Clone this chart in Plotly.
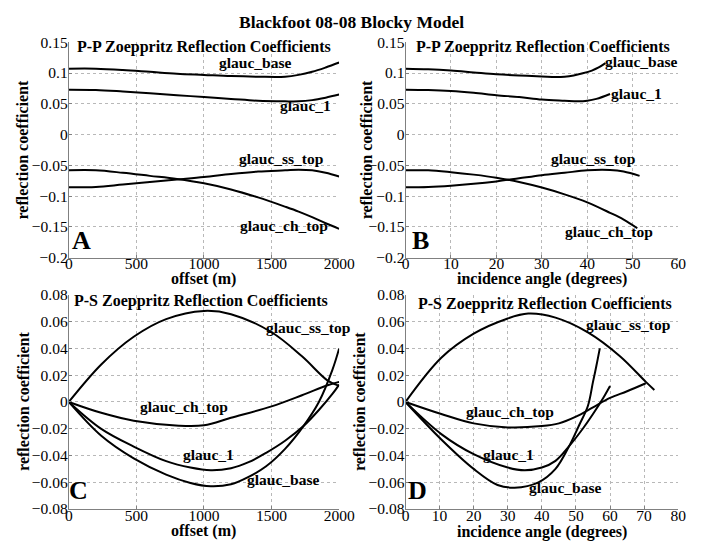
import plotly.graph_objects as go

# ---------------- data ----------------
# Panel A : P-P vs offset (m)
offset_pp = [0, 200, 400, 600, 800, 1000, 1200, 1400, 1600, 1700, 1800, 1900, 2000]
pp_off_base = [0.107, 0.107, 0.105, 0.102, 0.099, 0.097, 0.095, 0.094, 0.094, 0.097, 0.102, 0.109, 0.117]
pp_off_g1 = [0.073, 0.0725, 0.070, 0.067, 0.064, 0.061, 0.058, 0.055, 0.054, 0.054, 0.056, 0.060, 0.065]
pp_off_ss = [-0.0856, -0.085, -0.081, -0.077, -0.073, -0.069, -0.064, -0.060, -0.058, -0.057, -0.058, -0.062, -0.068]
pp_off_ch = [-0.058, -0.058, -0.062, -0.067, -0.072, -0.079, -0.089, -0.102, -0.117, -0.125, -0.134, -0.144, -0.153]

# Panel B : P-P vs incidence angle (degrees)
ang_pp_base = [0, 5, 10, 15, 20, 25, 30, 33, 35, 37, 39, 41, 42.5, 44]
pp_ang_base = [0.107, 0.106, 0.104, 0.101, 0.098, 0.096, 0.0945, 0.0935, 0.094, 0.096, 0.0995, 0.104, 0.109, 0.116]
ang_pp_g1 = [0, 5, 10, 15, 20, 25, 30, 35, 38, 40, 42, 45]
pp_ang_g1 = [0.073, 0.0725, 0.071, 0.068, 0.064, 0.061, 0.057, 0.055, 0.054, 0.055, 0.058, 0.066]
ang_pp_ss = [0, 5, 10, 15, 20, 25, 30, 35, 40, 45, 48, 51.5]
pp_ang_ss = [-0.0856, -0.085, -0.083, -0.080, -0.076, -0.071, -0.066, -0.062, -0.058, -0.0575, -0.060, -0.067]
ang_pp_ch = [0, 5, 10, 15, 20, 25, 30, 35, 40, 45, 48, 51]
pp_ang_ch = [-0.058, -0.058, -0.061, -0.065, -0.070, -0.077, -0.086, -0.097, -0.110, -0.127, -0.138, -0.152]

# Panel C : P-S vs offset (m)
off_ps_ss = [0, 240, 480, 720, 1000, 1200, 1500, 1725, 1915, 2000]
ps_off_ss = [0, 0.028, 0.0487, 0.0619, 0.068, 0.0656, 0.0521, 0.0341, 0.016, 0.012]
off_ps_ch = [0, 240, 480, 815, 1000, 1200, 1500, 1725, 1915, 2000]
ps_off_ch = [0, -0.0081, -0.014, -0.0177, -0.0174, -0.0118, -0.0033, 0.005, 0.0125, 0.015]
off_ps_g1 = [0, 240, 480, 720, 900, 1050, 1200, 1330, 1460, 1600, 1736, 1850, 1950, 2000]
ps_off_g1 = [0, -0.0201, -0.0333, -0.0442, -0.049, -0.051, -0.0495, -0.045, -0.038, -0.029, -0.018, -0.006, 0.006, 0.013]
off_ps_base = [0, 240, 480, 720, 900, 1050, 1200, 1330, 1460, 1600, 1736, 1850, 1950, 2000]
ps_off_base = [0, -0.0253, -0.0422, -0.0543, -0.0605, -0.063, -0.0615, -0.056, -0.048, -0.035, -0.018, 0.000, 0.024, 0.040]

# Panel D : P-S vs incidence angle (degrees)
ang_ps_ss = [0, 10.5, 20, 29.6, 36, 44, 53.5, 63, 70.5, 73]
ps_ang_ss = [0, 0.033, 0.051, 0.062, 0.066, 0.063, 0.052, 0.034, 0.015, 0.009]
ang_ps_ch = [0, 10.5, 20, 30, 40, 45, 50, 55, 60, 65, 70.5]
ps_ang_ch = [0, -0.009, -0.016, -0.019, -0.018, -0.016, -0.011, -0.004, 0.003, 0.008, 0.014]
ang_ps_g1 = [0, 10.5, 20, 30, 35, 40, 44, 48, 52, 55, 58, 60]
ps_ang_g1 = [0, -0.024, -0.039, -0.049, -0.051, -0.049, -0.044, -0.033, -0.020, -0.009, 0.003, 0.012]
ang_ps_base = [0, 10.5, 20, 27, 32, 39, 44, 48, 51, 53.5, 55, 56, 57]
ps_ang_base = [0, -0.028, -0.050, -0.062, -0.064, -0.060, -0.050, -0.033, -0.017, -0.003, 0.015, 0.027, 0.040]

main_title = "Blackfoot 08-08 Blocky Model"
pp_title = "P-P Zoeppritz Reflection Coefficients"
ps_title = "P-S Zoeppritz Reflection Coefficients"
ytitle = "reflection coefficient"
xtitle_off = "offset (m)"
xtitle_ang = "incidence angle (degrees)"

# ---------------- layout helpers ----------------
W, H = 701, 550
def xd(a, b):
    return [a / W, b / W]
def yd(top, bottom):
    return [1 - bottom / H, 1 - top / H]
def px(x):
    return x / W
def py(y):
    return 1 - y / H

FONT = "Liberation Serif"
LINE = dict(color="black", width=2)

fig = go.Figure()

def add(xs, ys, n):
    fig.add_trace(go.Scatter(x=xs, y=ys, mode="lines", line=dict(LINE, shape="spline", smoothing=1.0),
                             xaxis="x" + ("" if n == 1 else str(n)), yaxis="y" + ("" if n == 1 else str(n)),
                             showlegend=False, hoverinfo="skip"))

add(offset_pp, pp_off_base, 1); add(offset_pp, pp_off_g1, 1); add(offset_pp, pp_off_ss, 1); add(offset_pp, pp_off_ch, 1)
add(ang_pp_base, pp_ang_base, 2); add(ang_pp_g1, pp_ang_g1, 2); add(ang_pp_ss, pp_ang_ss, 2); add(ang_pp_ch, pp_ang_ch, 2)
add(off_ps_ss, ps_off_ss, 3); add(off_ps_ch, ps_off_ch, 3); add(off_ps_g1, ps_off_g1, 3); add(off_ps_base, ps_off_base, 3)
add(ang_ps_ss, ps_ang_ss, 4); add(ang_ps_ch, ps_ang_ch, 4); add(ang_ps_g1, ps_ang_g1, 4); add(ang_ps_base, ps_ang_base, 4)

def axis(domain, rng, dtick, anchor, letter):
    d = dict(domain=domain, range=rng, dtick=dtick, tick0=rng[0], anchor=anchor,
             showline=True, linecolor="#808080", linewidth=1, mirror=False,
             ticks="inside", ticklen=3, tickcolor="#808080",
             showgrid=True, gridcolor="#b8b8b8", griddash="dot", gridwidth=1,
             zeroline=False, tickfont=dict(family=FONT, size=15.5, color="black"),
             ticklabelstandoff=-8 if letter == "x" else -3)
    return d

A_x, B_x = xd(66.7, 345), xd(413.3, 694)
AB_y, CD_y = yd(34.3, 256.7), yd(295, 516)

fig.update_layout(
    width=W, height=H, margin=dict(l=0, r=0, t=0, b=0),
    paper_bgcolor="white", plot_bgcolor="white",
    font=dict(family=FONT),
    xaxis=axis(A_x, [0, 2000], 500, "y", "x"),
    yaxis=axis(AB_y, [-0.2, 0.15], 0.05, "x", "y"),
    xaxis2=axis(B_x, [0, 60], 10, "y2", "x"),
    yaxis2=axis(AB_y, [-0.2, 0.15], 0.05, "x2", "y"),
    xaxis3=axis(A_x, [0, 2000], 500, "y3", "x"),
    yaxis3=axis(CD_y, [-0.08, 0.08], 0.02, "x3", "y"),
    xaxis4=axis(B_x, [0, 80], 10, "y4", "x"),
    yaxis4=axis(CD_y, [-0.08, 0.08], 0.02, "x4", "y"),
)

ann = []
def txt(text, x, y, size=16, xref="paper", yref="paper", angle=0, xanchor="center"):
    ann.append(dict(text="<b>%s</b>" % text, x=x, y=y, xref=xref, yref=yref, showarrow=False,
                    xanchor=xanchor, yanchor="middle", textangle=angle,
                    font=dict(family=FONT, size=size, color="black")))

txt(main_title, px(358), py(13), size=17.5)
txt(pp_title, px(205.8), py(39.5))
txt(pp_title, px(555), py(39.5))
txt(ps_title, px(203), py(301))
txt(ps_title, px(556.7), py(304))
txt(xtitle_off, px(205.8), py(279))
txt(xtitle_ang, px(554), py(279))
txt(xtitle_off, px(205.8), py(539))
txt(xtitle_ang, px(554), py(540))
txt(ytitle, px(19), py(145.5), angle=-90)
txt(ytitle, px(373), py(145.5), angle=-90)
txt(ytitle, px(20), py(405), angle=-90)
txt(ytitle, px(366), py(405), angle=-90)

# panel letters
txt("A", 96, -0.172, size=26, xref="x", yref="y")
txt("B", 3.2, -0.172, size=26, xref="x2", yref="y2")
txt("C", 72, -0.066, size=26, xref="x3", yref="y3")
txt("D", 3.4, -0.066, size=26, xref="x4", yref="y4")

# curve labels
txt("glauc_base", 1377, 0.1165, size=15.5, xref="x", yref="y")
txt("glauc_1", 1748, 0.047, size=15.5, xref="x", yref="y")
txt("glauc_ss_top", 1569, -0.038, size=15.5, xref="x", yref="y")
txt("glauc_ch_top", 1593, -0.148, size=15.5, xref="x", yref="y")

txt("glauc_base", 51.8, 0.1195, size=15.5, xref="x2", yref="y2")
txt("glauc_1", 50.8, 0.067, size=15.5, xref="x2", yref="y2")
txt("glauc_ss_top", 41.2, -0.038, size=15.5, xref="x2", yref="y2")
txt("glauc_ch_top", 44.7, -0.157, size=15.5, xref="x2", yref="y2")

txt("glauc_ss_top", 1772, 0.056, size=15.5, xref="x3", yref="y3")
txt("glauc_ch_top", 850, -0.0033, size=15.5, xref="x3", yref="y3")
txt("glauc_1", 1030, -0.0395, size=15.5, xref="x3", yref="y3")
txt("glauc_base", 1581, -0.0576, size=15.5, xref="x3", yref="y3")

txt("glauc_ss_top", 65.4, 0.058, size=15.5, xref="x4", yref="y4")
txt("glauc_ch_top", 30.6, -0.0069, size=15.5, xref="x4", yref="y4")
txt("glauc_1", 30.1, -0.0395, size=15.5, xref="x4", yref="y4")
txt("glauc_base", 46.8, -0.0636, size=15.5, xref="x4", yref="y4")

fig.update_layout(annotations=ann)
fig.write_html("out.html")
